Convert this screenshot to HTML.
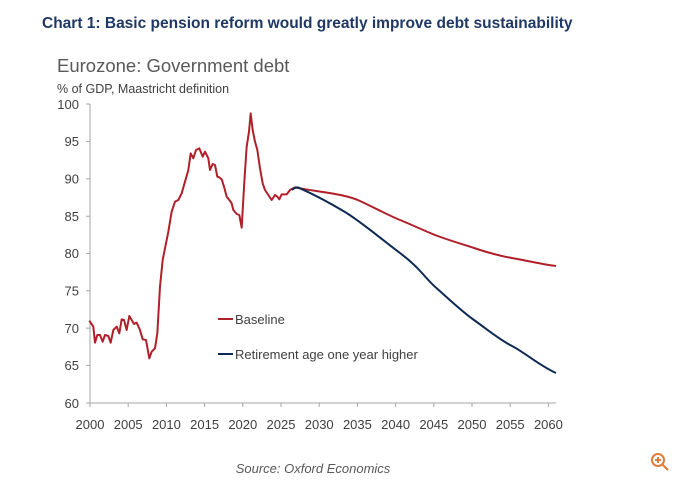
<!DOCTYPE html>
<html><head><meta charset="utf-8"><style>
body{margin:0;background:#fff;width:680px;height:480px;overflow:hidden;font-family:"Liberation Sans",sans-serif}
</style></head><body>
<svg width="680" height="480" xmlns="http://www.w3.org/2000/svg" font-family="Liberation Sans, sans-serif">
<text x="42" y="28" font-size="15.5" font-weight="bold" fill="#1f3864">Chart 1: Basic pension reform would greatly improve debt sustainability</text>
<text x="57" y="72" font-size="18.5" fill="#595959">Eurozone: Government debt</text>
<text x="57" y="93" font-size="12.5" fill="#404040">% of GDP, Maastricht definition</text>
<g stroke="#a6a6a6" stroke-width="1" fill="none">
<line x1="90" y1="104" x2="90" y2="403"/>
<line x1="90" y1="403" x2="556" y2="403"/>
<path d="M86 104H90M86 141.6H90M86 178.9H90M86 216.2H90M86 253.5H90M86 290.8H90M86 328.1H90M86 365.4H90M86 403H90"/>
<path d="M90 403V407M128.2 403V407M166.4 403V407M204.6 403V407M242.8 403V407M281 403V407M319.2 403V407M357.4 403V407M395.6 403V407M433.8 403V407M472 403V407M510.2 403V407M548.4 403V407"/>
</g>
<g font-size="13" fill="#404040" text-anchor="end">
<text x="79" y="109">100</text><text x="79" y="146">95</text><text x="79" y="183.5">90</text><text x="79" y="221">85</text><text x="79" y="258">80</text><text x="79" y="295.5">75</text><text x="79" y="333">70</text><text x="79" y="370">65</text><text x="79" y="408">60</text>
</g>
<g font-size="13" fill="#404040" text-anchor="middle">
<text x="90" y="429">2000</text><text x="128.2" y="429">2005</text><text x="166.4" y="429">2010</text><text x="204.6" y="429">2015</text><text x="242.8" y="429">2020</text><text x="281" y="429">2025</text><text x="319.2" y="429">2030</text><text x="357.4" y="429">2035</text><text x="395.6" y="429">2040</text><text x="433.8" y="429">2045</text><text x="472" y="429">2050</text><text x="510.2" y="429">2055</text><text x="548.4" y="429">2060</text>
</g>
<g transform="translate(60,100) scale(0.33333)" fill="none" stroke="#b0202a" stroke-width="2" stroke-linejoin="round">
<path vector-effect="non-scaling-stroke" d="M88 662L100 680L105 728L112 705L120 705L128 725L135 705L145 708L152 728L160 690L170 680L178 700L185 658L192 660L200 690L208 648L215 660L222 672L230 668L240 690L248 718L258 720L268 775L275 755L285 745L292 700L300 560L308 480L318 430L325 395L335 335L345 305L355 300L365 280L375 245L385 210L392 160L400 175L408 150L418 145L428 170L435 155L445 175L450 210L458 192L465 195L472 230L478 232L485 238L492 260L500 290L508 300L515 310L520 330L530 342L538 345L545 383L553 245L560 140L567 95L572 40L578 90L585 125L592 150L600 205L608 250L615 270L625 285L635 300L645 285L652 290L658 298L665 283L680 283L690 270L705 262L720 265"/>
</g>
<path d="M300 188.3 C 320 192,345 194,360 201 S 390 216,400 220 S 425 231,435 235 S 465 245,474 248 S 500 256,512 258 S 540 264,556 266" fill="none" stroke="#b0202a" stroke-width="2"/>
<path d="M292 190 Q 296 186,300 188.3 C 315 195,330 203,345 212 S 380 238,400 253 S 425 278,435 286.7 S 460 310,474 320 S 500 340,512 346 S 540 366,556 373" fill="none" stroke="#0d2a55" stroke-width="2"/>
<line x1="218" y1="319" x2="233" y2="319" stroke="#b0202a" stroke-width="2"/>
<text x="235" y="324" font-size="13" fill="#404040">Baseline</text>
<line x1="218" y1="354" x2="233" y2="354" stroke="#0d2a55" stroke-width="2"/>
<text x="235" y="359" font-size="13" fill="#404040">Retirement age one year higher</text>
<text x="313" y="473" font-size="13" font-style="italic" fill="#595959" text-anchor="middle">Source: Oxford Economics</text>
<g stroke="#e07b39" stroke-width="2" fill="none"><circle cx="658" cy="460" r="6"/><line x1="662.5" y1="464.5" x2="668" y2="470"/><line x1="655" y1="460" x2="661" y2="460"/><line x1="658" y1="457" x2="658" y2="463"/></g>
</svg>
</body></html>
